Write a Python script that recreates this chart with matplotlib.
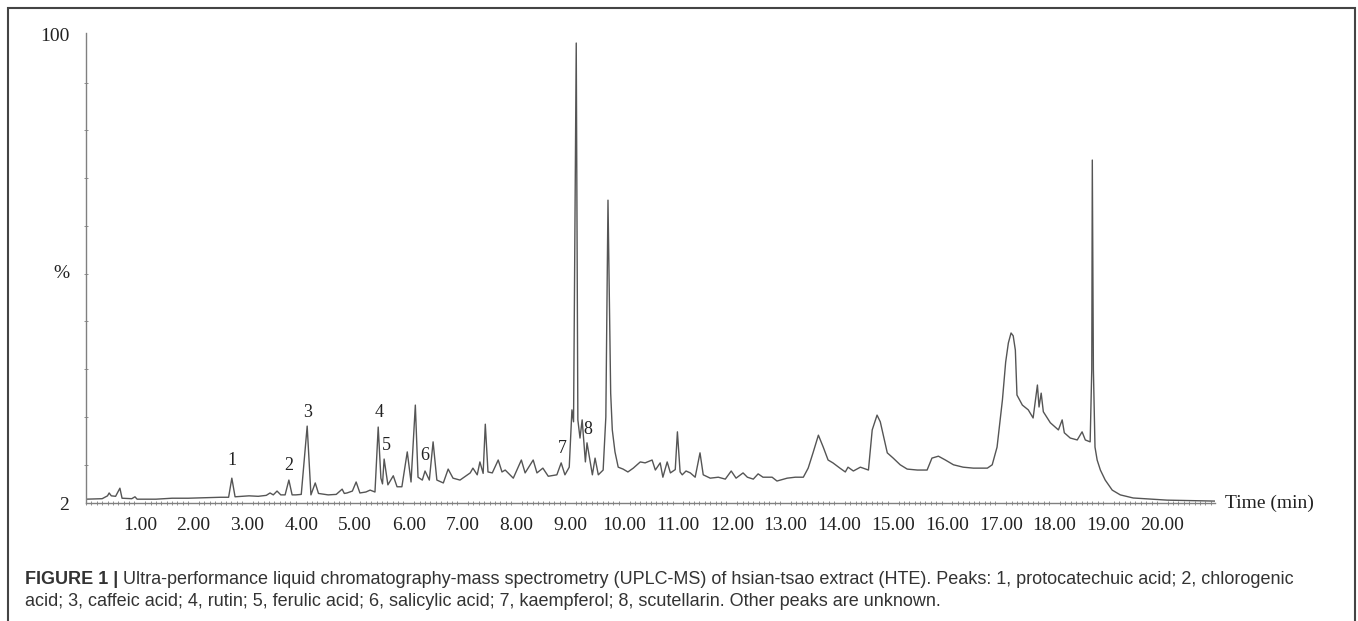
import matplotlib
matplotlib.use("Agg")
import matplotlib.pyplot as plt
from matplotlib.patches import Rectangle
from matplotlib.ticker import MultipleLocator, FixedLocator

# ---------------- data ----------------
time_min = [
    0.00, 0.30, 0.40, 0.43, 0.47, 0.55, 0.63, 0.67, 0.85, 0.91, 0.95, 1.30, 1.60, 1.90,
    2.20, 2.50, 2.65, 2.71, 2.77, 3.03, 3.20, 3.35, 3.42, 3.48, 3.55, 3.62, 3.70, 3.77,
    3.83, 3.90, 4.00, 4.11, 4.18, 4.26, 4.32, 4.50, 4.65, 4.76, 4.80, 4.85, 4.95, 5.02,
    5.09, 5.20, 5.28, 5.37, 5.43, 5.48, 5.51, 5.54, 5.61, 5.71, 5.78, 5.87, 5.97, 6.04,
    6.12, 6.17, 6.25, 6.30, 6.38, 6.45, 6.52, 6.64, 6.73, 6.82, 6.95, 7.14, 7.19, 7.27,
    7.32, 7.38, 7.42, 7.47, 7.55, 7.66, 7.73, 7.79, 7.94, 8.09, 8.16, 8.31, 8.38, 8.49,
    8.59, 8.75, 8.83, 8.90, 8.98, 9.03, 9.06, 9.11, 9.14, 9.18, 9.22, 9.28, 9.31, 9.41,
    9.46, 9.52, 9.61, 9.66, 9.70, 9.75, 9.78, 9.83, 9.89, 9.98, 10.07, 10.17, 10.30,
    10.39, 10.52, 10.58, 10.67, 10.72, 10.80, 10.86, 10.95, 10.99, 11.04, 11.08, 11.15,
    11.23, 11.32, 11.41, 11.47, 11.60, 11.75, 11.88, 11.99, 12.08, 12.21, 12.29, 12.40,
    12.49, 12.58, 12.75, 12.84, 13.03, 13.18, 13.33, 13.42, 13.51, 13.61, 13.70, 13.79,
    13.88, 14.01, 14.11, 14.16, 14.26, 14.39, 14.54, 14.61, 14.70, 14.76, 14.89, 15.00,
    15.13, 15.26, 15.45, 15.63, 15.72, 15.84, 15.97, 16.12, 16.30, 16.49, 16.75, 16.84,
    16.93, 17.03, 17.09, 17.14, 17.19, 17.23, 17.27, 17.30, 17.40, 17.51, 17.60, 17.68,
    17.71, 17.75, 17.79, 17.92, 18.07, 18.14, 18.18, 18.29, 18.42, 18.51, 18.57, 18.66,
    18.69, 18.70, 18.72, 18.75, 18.79, 18.85, 18.94, 19.07, 19.22, 19.46, 20.09, 20.98,
]
intensity = [
    2.8, 2.9, 3.5, 4.1, 3.5, 3.4, 5.1, 3.0, 2.9, 3.3, 2.8, 2.8, 3.0, 3.0,
    3.1, 3.2, 3.2, 7.2, 3.3, 3.5, 3.4, 3.6, 4.1, 3.7, 4.5, 3.7, 3.7, 6.8,
    3.7, 3.7, 3.8, 18.1, 3.7, 6.2, 4.0, 3.7, 3.8, 4.9, 4.0, 4.1, 4.5, 6.4,
    4.1, 4.3, 4.7, 4.3, 17.9, 7.2, 6.0, 11.2, 5.8, 7.7, 5.4, 5.4, 12.7, 6.4,
    22.5, 7.4, 6.8, 8.7, 6.8, 14.8, 6.8, 6.2, 9.1, 7.2, 6.8, 8.3, 9.3, 7.9,
    10.6, 8.2, 18.5, 8.5, 8.3, 11.0, 8.5, 8.9, 7.2, 11.0, 8.3, 11.0, 8.3, 9.3,
    7.6, 7.9, 10.4, 7.9, 9.5, 21.5, 19.0, 98.3, 19.4, 15.6, 19.4, 10.6, 14.6, 7.9,
    11.4, 7.9, 8.9, 20.0, 65.4, 25.0, 17.3, 12.7, 9.5, 9.1, 8.5, 9.3, 10.6,
    10.4, 11.0, 8.9, 10.4, 7.4, 10.6, 8.3, 9.0, 16.9, 8.5, 7.9, 8.7,
    8.3, 7.4, 12.5, 7.9, 7.2, 7.4, 7.0, 8.7, 7.2, 8.3, 7.4, 7.0,
    8.1, 7.4, 7.4, 6.6, 7.2, 7.4, 7.4, 9.3, 12.5, 16.2, 13.7, 11.0,
    10.4, 9.3, 8.5, 9.5, 8.7, 9.5, 8.9, 17.3, 20.4, 19.0, 12.5, 11.4,
    10.0, 9.1, 8.9, 8.9, 11.4, 11.8, 11.0, 10.0, 9.5, 9.3, 9.3, 10.0,
    13.7, 23.6, 31.5, 35.5, 37.6, 37.0, 34.0, 24.6, 22.5, 21.5, 19.8, 26.7,
    22.1, 25.0, 21.1, 18.8, 17.3, 19.4, 16.7, 15.6, 15.2, 16.9, 15.2, 14.8,
    30.0, 73.8, 30.0, 13.7, 11.0, 8.9, 6.8, 4.7, 3.7, 3.05, 2.6, 2.4,
]
x_tick_values = list(range(1, 21))
x_tick_labels = [f"{v:.2f}" for v in x_tick_values]
y_tick_values = [2, 50.4, 100]
y_tick_labels = ["2", "%", "100"]
peak_labels = ["1", "2", "3", "4", "5", "6", "7", "8"]
peak_label_time = [2.71, 3.77, 4.11, 5.45, 5.58, 6.30, 8.85, 9.33]
peak_label_int = [10.9, 9.8, 20.9, 20.9, 14.1, 11.9, 13.5, 17.3]
caption_bold = "FIGURE 1 |"
caption_line1 = ("Ultra-performance liquid chromatography-mass spectrometry (UPLC-MS) of "
                 "hsian-tsao extract (HTE). Peaks: 1, protocatechuic acid; 2, chlorogenic")
caption_line2 = ("acid; 3, caffeic acid; 4, rutin; 5, ferulic acid; 6, salicylic acid; "
                 "7, kaempferol; 8, scutellarin. Other peaks are unknown.")

# ---------------- figure ----------------
W, H = 1358, 621
fig = plt.figure(figsize=(W / 100, H / 100), dpi=100)
fig.patch.set_facecolor("white")

serif = ["Liberation Serif", "DejaVu Serif"]
sans = ["Liberation Sans", "DejaVu Sans"]

ax = fig.add_axes([86 / W, 1 - 503 / H, (1215 - 86) / W, (503 - 33) / H])
ax.plot(time_min, intensity, color="#555555", lw=1.0)
ax.set_xlim(0, 20.98)
ax.set_ylim(2, 100.4)

for s in ["top", "right"]:
    ax.spines[s].set_visible(False)
for s in ["left", "bottom"]:
    ax.spines[s].set_color("#808080")
    ax.spines[s].set_linewidth(1.0)

ax.xaxis.set_major_locator(FixedLocator(x_tick_values))
ax.set_xticklabels(x_tick_labels, family=serif, fontsize=14, color="#222222")
ax.xaxis.set_minor_locator(MultipleLocator(0.1))
ax.tick_params(axis="x", which="major", length=0, pad=10)
ax.tick_params(axis="x", which="minor", length=2.5, width=0.7, color="#909090",
               direction="inout")

ax.yaxis.set_major_locator(FixedLocator(y_tick_values))
ax.set_yticklabels(y_tick_labels, family=serif, fontsize=14, color="#222222")
ax.yaxis.set_minor_locator(MultipleLocator(10))
ax.tick_params(axis="y", which="major", length=0, pad=12)
ax.tick_params(axis="y", which="minor", length=3, width=0.7, color="#909090",
               direction="inout")

for lab, t, v in zip(peak_labels, peak_label_time, peak_label_int):
    ax.text(t, v, lab, family=serif, fontsize=13, color="#222222",
            ha="center", va="center")

fig.text(1225 / W, 1 - 503 / H, "Time (min)", family=serif, fontsize=14,
         color="#222222", ha="left", va="center")

# caption
cap_size = 13
t1 = fig.text(25 / W, 1 - 584 / H, caption_bold, family=sans, fontsize=cap_size,
              fontweight="bold", color="#333333", ha="left", va="baseline")
fig.canvas.draw()
bb = t1.get_window_extent(renderer=fig.canvas.get_renderer())
fig.text((bb.x1 + 5) / W, 1 - 584 / H, caption_line1, family=sans, fontsize=cap_size,
         color="#333333", ha="left", va="baseline")
fig.text(25 / W, 1 - 606 / H, caption_line2, family=sans, fontsize=cap_size,
         color="#333333", ha="left", va="baseline")

# outer frame
fig.add_artist(Rectangle((8 / W, -0.02), (1355 - 8) / W, 1 - 8 / H + 0.02,
                         transform=fig.transFigure, fill=False,
                         edgecolor="#444444", lw=1.5))

fig.savefig("out.png", dpi=100, facecolor="white")
